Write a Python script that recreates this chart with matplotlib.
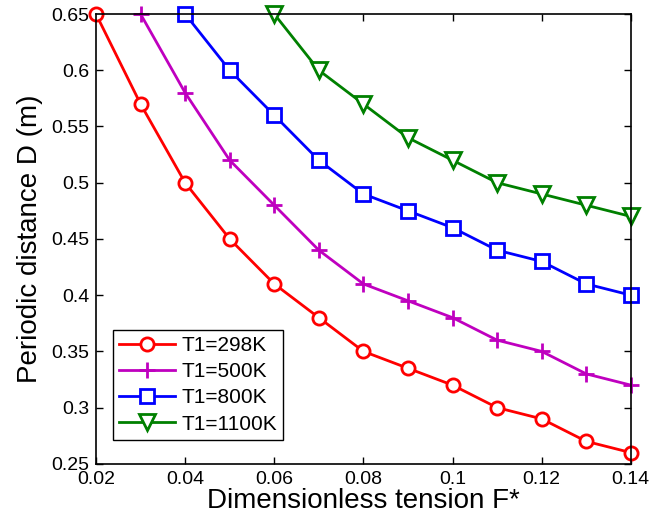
import numpy as np
import matplotlib
matplotlib.use('Agg')
import matplotlib.pyplot as plt

plt.rcParams['font.family'] = ['Liberation Sans', 'DejaVu Sans']

# data
F_298 = [0.02, 0.03, 0.04, 0.05, 0.06, 0.07, 0.08, 0.09, 0.10, 0.11, 0.12, 0.13, 0.14]
D_298 = [0.65, 0.57, 0.50, 0.45, 0.41, 0.38, 0.35, 0.335, 0.32, 0.30, 0.29, 0.27, 0.26]

F_500 = [0.03, 0.04, 0.05, 0.06, 0.07, 0.08, 0.09, 0.10, 0.11, 0.12, 0.13, 0.14]
D_500 = [0.65, 0.58, 0.52, 0.48, 0.44, 0.41, 0.395, 0.38, 0.36, 0.35, 0.33, 0.32]

F_800 = [0.04, 0.05, 0.06, 0.07, 0.08, 0.09, 0.10, 0.11, 0.12, 0.13, 0.14]
D_800 = [0.65, 0.60, 0.56, 0.52, 0.49, 0.475, 0.46, 0.44, 0.43, 0.41, 0.40]

F_1100 = [0.06, 0.07, 0.08, 0.09, 0.10, 0.11, 0.12, 0.13, 0.14]
D_1100 = [0.65, 0.60, 0.57, 0.54, 0.52, 0.50, 0.49, 0.48, 0.47]

xticks = [0.02, 0.04, 0.06, 0.08, 0.1, 0.12, 0.14]
xticklabels = ['0.02', '0.04', '0.06', '0.08', '0.1', '0.12', '0.14']
yticks = [0.25, 0.3, 0.35, 0.4, 0.45, 0.5, 0.55, 0.6, 0.65]
yticklabels = ['0.25', '0.3', '0.35', '0.4', '0.45', '0.5', '0.55', '0.6', '0.65']

fig = plt.figure(figsize=(6.53, 5.2), dpi=100)
ax = fig.add_axes([0.147, 0.108, 0.819, 0.865])

ax.plot(F_298, D_298, color='#ff0000', lw=2, marker='o', ms=9.5, mfc='white', mew=2, label='T1=298K', clip_on=False)
ax.plot(F_500, D_500, color='#bf00bf', lw=2, marker='+', ms=11, mew=2, label='T1=500K', clip_on=False)
ax.plot(F_800, D_800, color='#0000ff', lw=2, marker='s', ms=10, mfc='white', mew=2, label='T1=800K', clip_on=False)
ax.plot(F_1100, D_1100, color='#008000', lw=2, marker='v', ms=11, mfc='white', mew=2, label='T1=1100K', clip_on=False)

ax.set_xlim(0.02, 0.14)
ax.set_ylim(0.25, 0.65)
ax.set_xticks(xticks)
ax.set_xticklabels(xticklabels)
ax.set_yticks(yticks)
ax.set_yticklabels(yticklabels)
ax.tick_params(direction='in', top=True, right=True, labelsize=14, length=5, width=1, pad=5)
for s in ax.spines.values():
    s.set_linewidth(1.2)

ax.set_xlabel('Dimensionless tension F*', fontsize=20, labelpad=0)
ax.set_ylabel('Periodic distance D (m)', fontsize=20, labelpad=6)

leg = ax.legend(loc='lower left', bbox_to_anchor=(0.031, 0.053), borderaxespad=0, fontsize=15,
                fancybox=False, edgecolor='black', framealpha=1, handlelength=2.7, borderpad=0.3,
                labelspacing=0.35, handletextpad=0.3)
leg.get_frame().set_linewidth(1)

plt.savefig('out.png', dpi=100)
